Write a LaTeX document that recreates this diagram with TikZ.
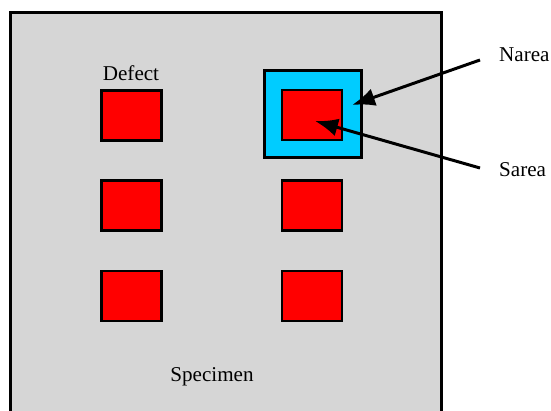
\documentclass[tikz,border=0pt]{standalone}
\usepackage{fontspec}
\setmainfont{Liberation Serif}
\usetikzlibrary{arrows.meta}
\definecolor{plategray}{RGB}{214,214,214}
\definecolor{areablue}{RGB}{0,204,255}
\begin{document}
\begin{tikzpicture}[x=0.02cm,y=-0.02cm]
\tikzstyle{plate} = [rectangle, draw=black, line width=1.6pt, fill=plategray, minimum width=8.62cm, minimum height=8.35cm, inner sep=0pt]
\tikzstyle{defect} = [rectangle, draw=black, line width=1.5pt, fill=red, minimum width=1.2cm, minimum height=1cm, inner sep=0pt]
\tikzstyle{nearbox} = [rectangle, draw=black, line width=1.5pt, fill=areablue, minimum width=1.94cm, minimum height=1.74cm, inner sep=0pt]
\tikzstyle{txt} = [font=\fontsize{12}{14}\selectfont]
\tikzstyle{arrow} = [line width=1.7pt, -{Latex[length=0.46cm,width=0.36cm]}]

\useasboundingbox (0,0) rectangle (551,411);
\clip (0,0) rectangle (551,411);

%nodes
\node (plate) [plate] at (226,221) {};
\node (nbox) [nearbox] at (313,114) {};
\node (d11) [defect] at (131.5,115.5) {};
\node (d12) [defect] at (312,115) {};
\node (d21) [defect] at (131.5,205.5) {};
\node (d22) [defect] at (312,205.5) {};
\node (d31) [defect] at (131.5,296) {};
\node (d32) [defect] at (312,296) {};
\node (deftxt) [txt] at (131,73) {Defect};
\node (spectxt) [txt] at (212,377) {Specimen};
\node (nareatxt) [txt, anchor=west] at (493,55) {Narea};
\node (sareatxt) [txt, anchor=west] at (493,170) {Sarea};
\coordinate (ntip) at (352,105);
\coordinate (stip) at (315,121);

%arrows
\draw [arrow] ([shift={(-13,5)}]nareatxt.west) -- (ntip);
\draw [arrow] ([shift={(-13,-2)}]sareatxt.west) -- (stip);
\end{tikzpicture}
\end{document}
